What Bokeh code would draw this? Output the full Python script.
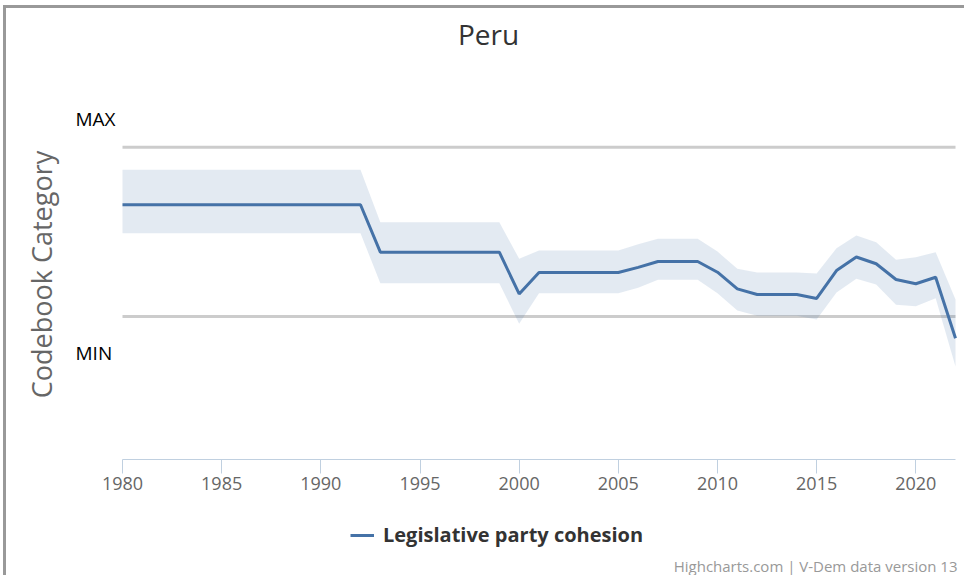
from bokeh.plotting import figure
from bokeh.models import Range1d, Label, Legend, LegendItem, FixedTicker, ColumnDataSource
from bokeh.embed import file_html
from bokeh.resources import INLINE

# ---- data: Peru, legislative party cohesion (codebook scale, MIN=0 .. MAX=3)
years = list(range(1980, 2023))
cohesion = [1.98] * 13 + [1.14] * 7 + [0.40, 0.78, 0.78, 0.78, 0.78, 0.78,
            0.87, 0.975, 0.975, 0.975, 0.785, 0.49, 0.39, 0.39, 0.39, 0.32,
            0.815, 1.055, 0.934, 0.656, 0.58, 0.696, -0.385]
upper = [2.60] * 13 + [1.67] * 7 + [1.023, 1.17, 1.17, 1.17, 1.17, 1.17,
         1.28, 1.377, 1.377, 1.377, 1.15, 0.845, 0.78, 0.78, 0.78, 0.76,
         1.21, 1.435, 1.317, 1.005, 1.051, 1.14, 0.30]
lower = [1.476] * 13 + [0.59] * 7 + [-0.129, 0.413, 0.413, 0.413, 0.413, 0.413,
         0.51, 0.65, 0.65, 0.65, 0.41, 0.106, 0.012, 0.012, 0.012, -0.053,
         0.425, 0.668, 0.567, 0.207, 0.183, 0.324, -0.886]
scale_min, scale_max = 0, 3
x_ticks = [1980, 1985, 1990, 1995, 2000, 2005, 2010, 2015, 2020]

title_text = "Peru"
series_name = "Legislative party cohesion"
y_title = "Codebook Category"
credits = "Highcharts.com | V-Dem data version 13"

# ---- page geometry (pixels); the plot frame fills the whole canvas
OX, OY = 6, 8                      # canvas origin inside its bordered box
W, H = 967 - OX, 578 - OY
PX_FIRST, PX_LAST = 122, 955       # horizontal pixel of first / last year
PY_MIN, PY_MAX = 316, 146.7        # vertical pixel of MIN / MAX lines
PY_AXIS = 459                      # vertical pixel of the x axis line

LINE = "#4572A7"
FONT = "Open Sans"

x_per_px = (years[-1] - years[0]) / (PX_LAST - PX_FIRST)
y_per_px = (scale_max - scale_min) / (PY_MIN - PY_MAX)


def px_x(px):
    return years[0] + (px - PX_FIRST) * x_per_px


def px_y(py):
    return scale_min + (PY_MIN - py) * y_per_px


src = ColumnDataSource(dict(year=years, v=cohesion, hi=upper, lo=lower))

p = figure(width=W, height=H, output_backend="svg", toolbar_location=None,
           title=None, x_range=Range1d(px_x(OX), px_x(OX + W)),
           y_range=Range1d(px_y(OY + H), px_y(OY)),
           min_border=0, min_border_left=0, min_border_right=0,
           min_border_top=0, min_border_bottom=0)
p.styles = {"margin-top": "5px", "margin-left": "3px",
            "border-top": "3px solid #999999", "border-left": "3px solid #999999"}
p.outline_line_color = None
p.background_fill_color = "white"
p.border_fill_color = "white"
p.xgrid.visible = False
p.ygrid.visible = False
p.yaxis.visible = False

ax = p.xaxis[0]
ax.fixed_location = px_y(PY_AXIS)
ax.bounds = (years[0], years[-1])
ax.ticker = FixedTicker(ticks=x_ticks)
ax.axis_line_color = "#C0D0E0"
ax.axis_line_width = 1
ax.major_tick_line_color = "#C0D0E0"
ax.major_tick_in = 0
ax.major_tick_out = 14
ax.minor_tick_line_color = None
ax.major_label_text_font = FONT
ax.major_label_text_font_size = "18px"
ax.major_label_text_color = "#666666"
ax.major_label_standoff = 3

# MIN / MAX reference lines across the plotted years
p.segment(x0=[years[0]] * 2, x1=[years[-1]] * 2, y0=[scale_max, scale_min],
          y1=[scale_max, scale_min], line_color="#CCCCCC", line_width=3)

# uncertainty band and point estimate
p.varea(x="year", y1="lo", y2="hi", source=src, fill_color=LINE, fill_alpha=0.15)
r_line = p.line(x="year", y="v", source=src, line_color=LINE, line_width=3)


def add_text(px, py, text, size, color, align="left", angle=0.0, style="normal"):
    p.add_layout(Label(x=px_x(px), y=px_y(py), text=text, text_font=FONT,
                       text_font_size=size, text_color=color, angle=angle,
                       text_font_style=style, text_align=align,
                       text_baseline="middle"))


add_text(488, 33, title_text, "28px", "#333333", align="center")
add_text(75, 118, "MAX", "19px", "#000000")
add_text(75, 352, "MIN", "19px", "#000000")
add_text(41, 274, y_title, "27px", "#666666", align="center", angle=1.5708)
add_text(957, 565, credits, "15px", "#999999", align="right")

legend = Legend(items=[LegendItem(label=series_name, renderers=[r_line])],
                location=(350 - OX, 30),
                border_line_color=None, background_fill_alpha=0,
                padding=0, margin=0, glyph_width=24, glyph_height=20,
                label_height=20, label_standoff=9, label_text_font=FONT,
                label_text_font_size="20px", label_text_font_style="bold",
                label_text_color="#333333")
p.add_layout(legend, "center")

open("out.html", "w").write(file_html(p, INLINE))
